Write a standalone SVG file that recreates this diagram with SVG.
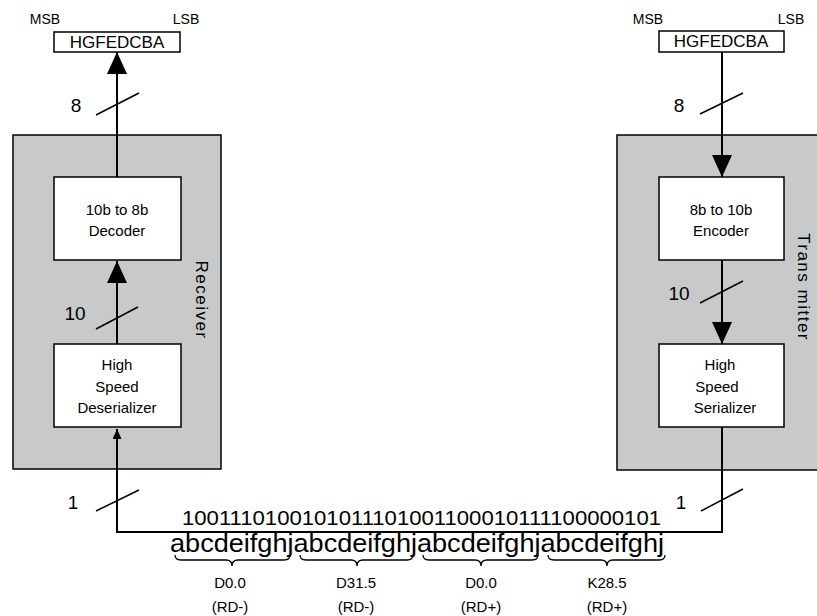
<svg xmlns="http://www.w3.org/2000/svg" width="817" height="616" viewBox="0 0 817 616">
<defs>
<style>
text{font-family:"Liberation Sans","Open Sans",sans-serif;fill:#000}
.box{fill:#fff;stroke:#000;stroke-width:1.5}
.grp{fill:#c8c9cb;stroke:#000;stroke-width:1.5}
.ln{fill:none;stroke:#000;stroke-width:2}
.sl{fill:none;stroke:#000;stroke-width:1.5}
.br{fill:none;stroke:#000;stroke-width:1.3}
.t14{font-size:15px;text-anchor:middle}
.t13{font-size:14px;text-anchor:middle}
.t17{font-size:17px;text-anchor:middle}
.t18{font-size:19px;text-anchor:middle}
</style>
<marker id="ah" viewBox="0 0 22 20" refX="22" refY="10" markerWidth="22" markerHeight="20" markerUnits="userSpaceOnUse" orient="auto"><path d="M0,0 L22,10 L0,20 Z" fill="#000"/></marker>
<marker id="as" viewBox="0 0 10 9" refX="10" refY="4.5" markerWidth="10" markerHeight="9" markerUnits="userSpaceOnUse" orient="auto"><path d="M0,0 L10,4.5 L0,9 Z" fill="#000"/></marker>
</defs>

<g id="receiver">
<rect class="grp" x="13" y="135" width="208" height="334"/>
<text class="t17" transform="translate(196,300) rotate(90)" letter-spacing="1.5">Receiver</text>
</g>
<g id="transmitter">
<rect class="grp" x="617" y="135" width="215" height="335"/>
<text class="t17" transform="translate(798,287) rotate(90)" letter-spacing="1.5">Trans mitter</text>
</g>

<g id="rx-out">
<rect class="box" x="54" y="32" width="126" height="20"/>
<text class="t17" x="117" y="48">HGFEDCBA</text>
<text class="t13" x="45" y="24">MSB</text>
<text class="t13" x="186" y="24">LSB</text>
</g>
<g id="tx-in">
<rect class="box" x="659" y="31" width="125" height="21"/>
<text class="t17" x="721" y="47">HGFEDCBA</text>
<text class="t13" x="648" y="24">MSB</text>
<text class="t13" x="791" y="24">LSB</text>
</g>

<g id="decoder">
<rect class="box" x="54" y="177" width="127" height="83"/>
<text class="t14" x="117" y="215">10b to 8b</text>
<text class="t14" x="117" y="236">Decoder</text>
</g>
<g id="deserializer">
<rect class="box" x="54" y="344" width="127" height="83"/>
<text class="t14" x="117" y="370">High</text>
<text class="t14" x="117" y="392">Speed</text>
<text class="t14" x="117" y="413">Deserializer</text>
</g>
<g id="encoder">
<rect class="box" x="659" y="177" width="125" height="83"/>
<text class="t14" x="721" y="215">8b to 10b</text>
<text class="t14" x="721" y="236">Encoder</text>
</g>
<g id="serializer">
<rect class="box" x="659" y="344" width="125" height="83"/>
<text class="t14" x="720" y="370">High</text>
<text class="t14" x="717" y="392">Speed</text>
<text class="t14" x="725" y="413">Serializer</text>
</g>

<g id="connectors">
<line class="ln" x1="117" y1="135" x2="117" y2="52" marker-end="url(#ah)"/>
<line class="ln" x1="117" y1="177" x2="117" y2="135"/>
<line class="ln" x1="117" y1="344" x2="117" y2="261" marker-end="url(#ah)"/>
<polyline class="ln" points="722,427 722,532 117,532 117,429" marker-end="url(#as)"/>
<line class="ln" x1="722" y1="52" x2="722" y2="177" marker-end="url(#ah)"/>
<line class="ln" x1="722" y1="260" x2="722" y2="344" marker-end="url(#ah)"/>
<line class="sl" x1="96" y1="115" x2="139" y2="93"/>
<line class="sl" x1="96" y1="329" x2="138" y2="307"/>
<line class="sl" x1="96" y1="511" x2="139" y2="490"/>
<line class="sl" x1="700" y1="114" x2="743" y2="93"/>
<line class="sl" x1="700" y1="303" x2="743" y2="281"/>
<line class="sl" x1="701" y1="511" x2="743" y2="489"/>
<text class="t18" x="76" y="112">8</text>
<text class="t18" x="75" y="320">10</text>
<text class="t18" x="73" y="509">1</text>
<text class="t18" x="679" y="112">8</text>
<text class="t18" x="679" y="300">10</text>
<text class="t18" x="681" y="509">1</text>
</g>

<g id="bitstream">
<text x="182" y="525" font-size="20" textLength="479" lengthAdjust="spacingAndGlyphs">1001110100101011101001100010111100000101</text>
<text x="170" y="552" font-size="25" textLength="494" lengthAdjust="spacingAndGlyphs">abcdeifghjabcdeifghjabcdeifghjabcdeifghj</text>
<path class="br" d="M175,555 Q175,560 181,560 L226,560 Q232,560 232,566 Q232,560 238,560 L284,560 Q290,560 290,555"/>
<path class="br" d="M300,555 Q300,560 306,560 L351,560 Q357,560 357,566 Q357,560 363,560 L407,560 Q413,560 413,555"/>
<path class="br" d="M423,555 Q423,560 429,560 L475,560 Q481,560 481,566 Q481,560 487,560 L532,560 Q538,560 538,555"/>
<path class="br" d="M548,555 Q548,560 554,560 L601,560 Q607,560 607,566 Q607,560 613,560 L659,560 Q665,560 665,555"/>
<text class="t14" x="230" y="588">D0.0</text>
<text class="t14" x="230" y="612">(RD-)</text>
<text class="t14" x="356" y="588">D31.5</text>
<text class="t14" x="356" y="612">(RD-)</text>
<text class="t14" x="481" y="588">D0.0</text>
<text class="t14" x="481" y="612">(RD+)</text>
<text class="t14" x="607" y="588">K28.5</text>
<text class="t14" x="607" y="612">(RD+)</text>
</g>
</svg>
